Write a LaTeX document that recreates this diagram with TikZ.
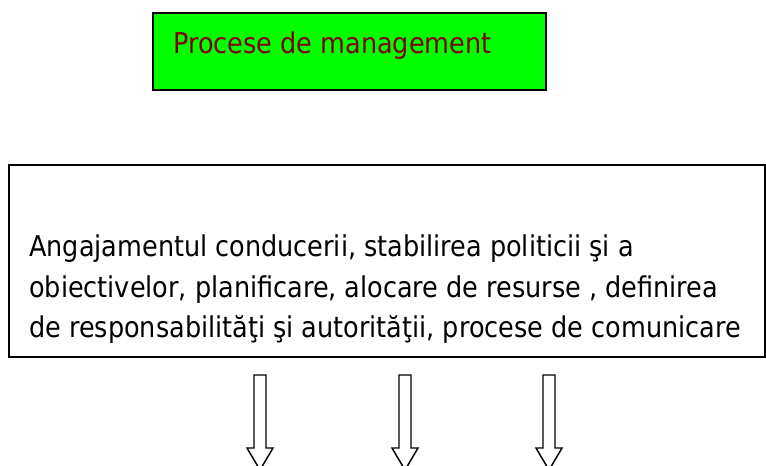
\documentclass[tikz,border=0pt]{standalone}
\usepackage{fontspec}
\setmainfont{DejaVu Sans}[FakeStretch=0.89]
\usetikzlibrary{positioning}

\definecolor{mgmtgreen}{HTML}{00FF00}
\definecolor{mgmtred}{HTML}{800000}

\begin{document}
\begin{tikzpicture}
[
x=0.75pt, y=-0.75pt
, every node/.style={font=\fontsize{21.5}{30}\selectfont, inner sep=0pt}
, boxline/.style={draw=black, line width=1.3pt}
, arrowline/.style={draw=black, line width=1.1pt, fill=white, line join=miter}
]
\useasboundingbox (0,0) rectangle (766,466);
\clip (0,0) rectangle (766,466);

% management box
\node[boxline, fill=mgmtgreen, anchor=north west, minimum width=294.75pt, minimum height=57.75pt] (mgmt) at (152,12) {};
\node[anchor=base west, text=mgmtred] (mgmtlabel) at (173,54) {Procese de management};

% description box
\node[boxline, anchor=north west, minimum width=567pt, minimum height=144pt] (desc) at (8,164) {};
\node[anchor=base west] (desca) at (29,257) {Angajamentul conducerii, stabilirea politicii şi a};
\node[anchor=base west] (descb) at (29,297) {obiectivelor, planificare, alocare de resurse , definirea};
\node[anchor=base west] (descc) at (29,337) {de responsabilităţi şi autorităţii, procese de comunicare};

% block arrows
\foreach \ax [count=\i] in {260,405,549}{
  \coordinate (arrow\i) at (\ax,375);
  \draw[arrowline] (arrow\i) ++(-6,0) -- ++(0,73) -- ++(-7,0) -- ++(13,22) -- ++(13,-22) -- ++(-7,0) -- ++(0,-73) -- cycle;
}

\end{tikzpicture}
\end{document}
